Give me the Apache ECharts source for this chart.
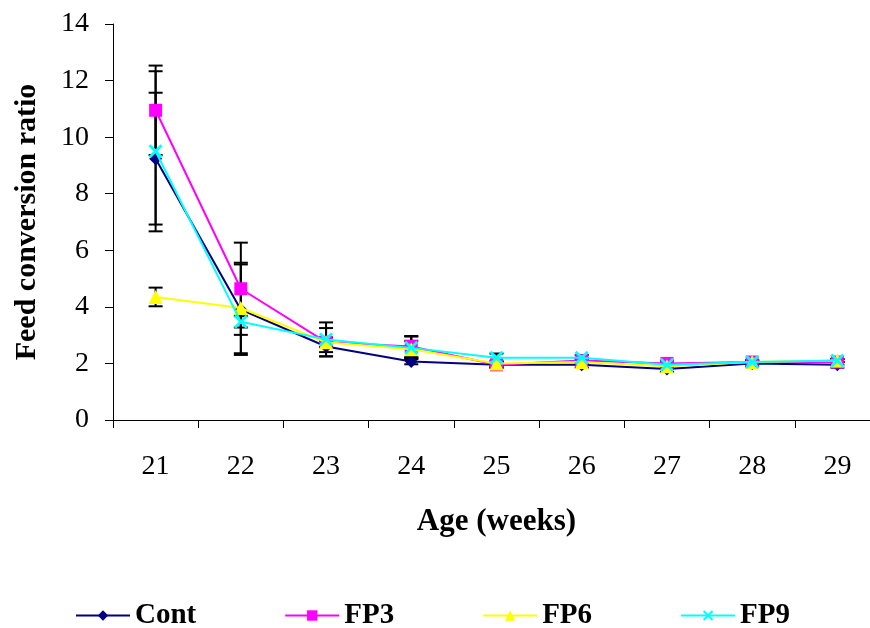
<!DOCTYPE html>
<html>
<head>
<meta charset="utf-8">
<script src="https://cdn.jsdelivr.net/npm/echarts@6/dist/echarts.min.js"></script>
<style>
  html, body { margin: 0; padding: 0; background: #fff; }
</style>
</head>
<body>
<div id="mychart" style="width: 870px; height: 628px"></div>
<script>
  // age in weeks
  const weeks = ['21', '22', '23', '24', '25', '26', '27', '28', '29']
  // feed conversion ratio per group
  const cont = [9.24, 3.9, 2.6, 2.07, 1.95, 1.95, 1.8, 2.0, 1.95]
  const fp3 = [10.95, 4.64, 2.75, 2.6, 1.95, 2.1, 2.0, 2.05, 2.05]
  const fp6 = [4.35, 3.96, 2.75, 2.5, 2.0, 2.05, 1.9, 2.05, 2.1]
  const fp9 = [9.5, 3.47, 2.85, 2.55, 2.2, 2.2, 1.95, 2.05, 2.1]
  // +/- error per group
  const contErr = [2.33, 1.6, 0.2, 0.1, 0.1, 0.1, 0.1, 0.1, 0.1]
  const fp3Err = [1.58, 1.63, 0.5, 0.37, 0.1, 0.1, 0.1, 0.05, 0.1]
  const fp6Err = [0.33, 1.6, 0.17, 0.3, 0.1, 0.1, 0.1, 0.05, 0.05]
  const fp9Err = [2.83, 0.2, 0.6, 0.4, 0.15, 0.1, 0.05, 0.05, 0.05]

  const font = 'Liberation Serif'
  const crossPath = 'path://M0,1.4L1.4,0L5,3.6L8.6,0L10,1.4L6.4,5L10,8.6L8.6,10L5,6.4L1.4,10L0,8.6L3.6,5Z'

  const groups = [
    { name: 'Cont', values: cont, err: contErr, color: '#000080', symbol: 'diamond', size: 13 },
    { name: 'FP3', values: fp3, err: fp3Err, color: '#FF00FF', symbol: 'rect', size: 13 },
    { name: 'FP6', values: fp6, err: fp6Err, color: '#FFFF00', symbol: 'triangle', size: 14 },
    { name: 'FP9', values: fp9, err: fp9Err, color: '#00FFFF', symbol: crossPath, size: 14 },
  ]

  // error bar data: [index, low, high]
  function errData(values, err) {
    return values.map((v, i) => [i, v - err[i], v + err[i]])
  }

  function renderErr(params, api) {
    const x = api.value(0)
    const low = api.coord([x, api.value(1)])
    const high = api.coord([x, api.value(2)])
    const half = 7
    const style = { stroke: '#000', lineWidth: 2 }
    return {
      type: 'group',
      children: [
        { type: 'line', shape: { x1: low[0], y1: low[1], x2: high[0], y2: high[1] }, style: style },
        { type: 'line', shape: { x1: low[0] - half, y1: low[1], x2: low[0] + half, y2: low[1] }, style: style },
        { type: 'line', shape: { x1: high[0] - half, y1: high[1], x2: high[0] + half, y2: high[1] }, style: style },
      ],
    }
  }

  const series = []
  groups.forEach((g) => {
    series.push({
      type: 'custom',
      renderItem: renderErr,
      data: errData(g.values, g.err),
      z: 1,
      silent: true,
    })
  })
  groups.forEach((g, k) => {
    series.push({
      name: g.name,
      type: 'line',
      data: g.values,
      symbol: g.symbol,
      symbolSize: g.size,
      lineStyle: { color: g.color, width: 2 },
      itemStyle: { color: g.color },
      z: 2 + k,
    })
  })

  const option = {
    animation: false,
    backgroundColor: '#fff',
    grid: { left: 113, top: 24, width: 767, height: 396, outerBoundsMode: 'none' },
    legend: {
      data: groups.map((g) => g.name),
      left: 70,
      top: 596,
      itemWidth: 54,
      itemHeight: 13,
      itemGap: 88,
      textStyle: { fontFamily: font, fontSize: 29, fontWeight: 'bold', color: '#000' },
    },
    xAxis: {
      type: 'category',
      data: weeks,
      boundaryGap: true,
      name: 'Age (weeks)',
      nameLocation: 'middle',
      nameGap: 86,
      nameTextStyle: { fontFamily: font, fontSize: 31, fontWeight: 'bold', color: '#000' },
      axisLine: { lineStyle: { color: '#000', width: 1 } },
      axisTick: { show: true, length: 8, lineStyle: { color: '#000' } },
      axisLabel: { fontFamily: font, fontSize: 28, color: '#000', margin: 33 },
      splitLine: { show: false },
    },
    yAxis: {
      type: 'value',
      min: 0,
      max: 14,
      interval: 2,
      name: 'Feed conversion ratio',
      nameLocation: 'middle',
      nameGap: 71,
      nameTextStyle: { fontFamily: font, fontSize: 30, fontWeight: 'bold', color: '#000' },
      axisLine: { show: true, lineStyle: { color: '#000', width: 1 } },
      axisTick: { show: true, length: 8, lineStyle: { color: '#000' } },
      axisLabel: { fontFamily: font, fontSize: 28, color: '#000', margin: 24 },
      splitLine: { show: false },
    },
    series: series,
  }

  const myChart = echarts.init(document.getElementById('mychart'))
  myChart.setOption(option)
</script>
</body>
</html>
